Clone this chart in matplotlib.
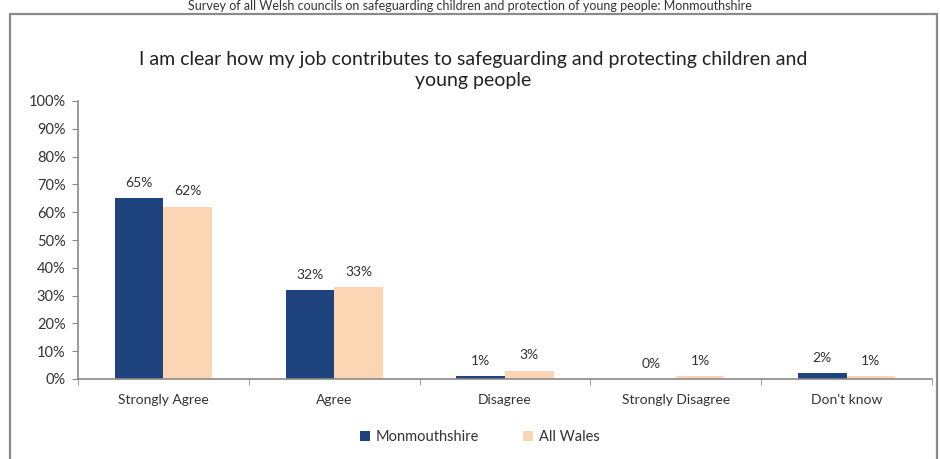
import matplotlib
matplotlib.use("Agg")
import matplotlib.pyplot as plt
from matplotlib.patches import Rectangle
import numpy as np

plt.rcParams['font.family'] = ['Lato', 'DejaVu Sans']

categories = ["Strongly Agree", "Agree", "Disagree", "Strongly Disagree", "Don't know"]
monmouthshire = [65, 32, 1, 0, 2]
all_wales = [62, 33, 3, 1, 1]
series_names = ["Monmouthshire", "All Wales"]
colors = ["#1F437C", "#FCD5B4"]
yticks = list(range(0, 101, 10))

W, H = 940, 459
fig = plt.figure(figsize=(W / 100, H / 100), dpi=100)

# outer chart frame
fig.patches.append(Rectangle((10 / W, -0.05), 927 / W, 1.05 - 14 / H,
                             transform=fig.transFigure, fill=False,
                             edgecolor="#8A8A8A", linewidth=1.6))

# page header above the chart frame
fig.text(0.5, 1 - 6 / H, "Survey of all Welsh councils on safeguarding children and protection of young people: Monmouthshire",
         ha="center", va="center", fontsize=9, color="#333333")

fig.text(473 / W, 1 - 70 / H,
         "I am clear how my job contributes to safeguarding and protecting children and\nyoung people",
         ha="center", va="center", fontsize=14, color="#222222", linespacing=1.3)

ax = fig.add_axes([78 / W, 1 - 379 / H, (932 - 78) / W, (379 - 101) / H])
x = np.arange(len(categories))
bw = 0.285
for vals, name, c, off in [(monmouthshire, series_names[0], colors[0], -bw / 2),
                           (all_wales, series_names[1], colors[1], bw / 2)]:
    ax.bar(x + off, vals, width=bw, color=c, label=name, zorder=2)
    for xi, v in zip(x + off, vals):
        ax.annotate(f"{v}%", (xi, v), xytext=(0, 11), textcoords="offset points",
                    ha="center", va="center", fontsize=10, color="#333333")

ax.set_xlim(-0.5, len(categories) - 0.5)
ax.set_ylim(0, 100)
ax.set_yticks(yticks)
ax.set_yticklabels([f"{t}%" for t in yticks], fontsize=10.5, color="#333333")
ax.set_xticks(x)
ax.set_xticklabels(categories, fontsize=10, color="#333333")
ax.tick_params(axis="x", length=0, pad=11)
ax.set_xticks(np.arange(-0.5, len(categories)), minor=True)
ax.tick_params(axis="x", which="minor", length=4, color="#8A8A8A", direction="out")
ax.tick_params(axis="y", length=4, color="#8A8A8A", pad=5)
for s in ["top", "right"]:
    ax.spines[s].set_visible(False)
for s in ["left", "bottom"]:
    ax.spines[s].set_color("#8A8A8A")
    ax.spines[s].set_linewidth(1.2)

leg = fig.legend(loc="center", bbox_to_anchor=(480 / W, 1 - 437 / H), ncol=2,
                 frameon=False, fontsize=10.5, handlelength=0.7, handleheight=0.7,
                 handletextpad=0.4, columnspacing=3.0)
for t in leg.get_texts():
    t.set_color("#333333")

fig.savefig("out.png", dpi=100)
